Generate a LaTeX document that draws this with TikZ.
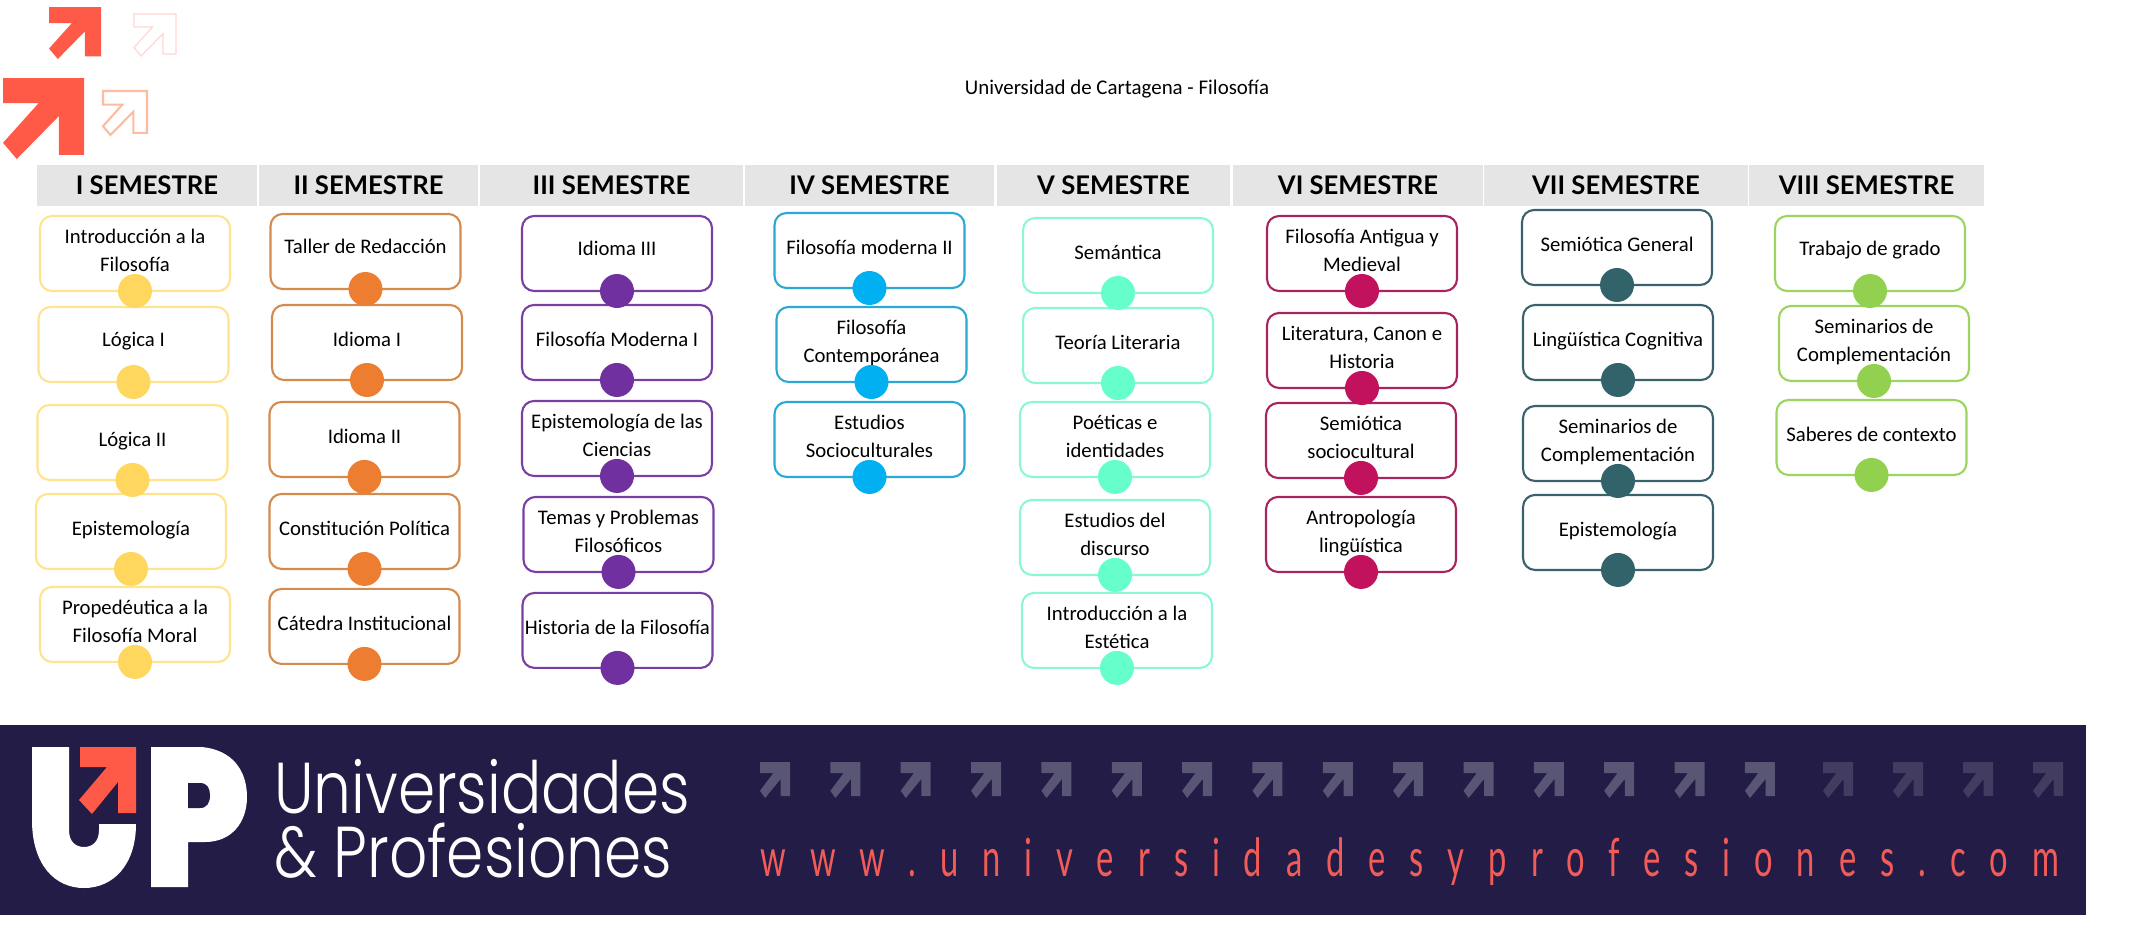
\documentclass[tikz,border=0pt]{standalone}
\usepackage{fontspec}
\usepackage{xcolor}
\setmainfont{Carlito}
\newfontfamily\headfont{Lato}
\newfontfamily\brandfont[FakeStretch=0.83]{Poppins Light}
\newfontfamily\webfont[FakeStretch=0.62,LetterSpace=45.5]{Lato}
\usetikzlibrary{positioning}

\definecolor{band}{HTML}{221C46}
\definecolor{coral}{HTML}{FF5A47}
\definecolor{webred}{HTML}{F25C58}
\definecolor{yelline}{HTML}{FFE38E}
\definecolor{yeldot}{HTML}{FFD75F}
\definecolor{orgline}{HTML}{D58A4E}
\definecolor{orgdot}{HTML}{ED7D31}
\definecolor{purline}{HTML}{7A3FA5}
\definecolor{purdot}{HTML}{7030A0}
\definecolor{cyaline}{HTML}{2AA9D6}
\definecolor{cyadot}{HTML}{00B0F0}
\definecolor{minline}{HTML}{8CF7D8}
\definecolor{mindot}{HTML}{66FFCC}
\definecolor{criline}{HTML}{A8245F}
\definecolor{cridot}{HTML}{C2125E}
\definecolor{tealine}{HTML}{3A616C}
\definecolor{teadot}{HTML}{33636A}
\definecolor{greline}{HTML}{9BD55F}
\definecolor{gredot}{HTML}{92D050}

\tikzset{
    upmark/.pic={
        \path[pic actions] (0,0) -- (1,0) -- (1,.95) -- (.69,.95) -- (.69,.47) -- (.17,1) -- (0,.8) -- (.44,.31) -- (0,.31) -- cycle;
    }
}

\begin{document}
\begin{tikzpicture}[
    x=0.02cm, y=-0.02cm,
    head/.style={fill=black!10, minimum height=0.82cm, inner sep=0pt, outer sep=0pt, font=\headfont\fontsize{14.6}{15}\selectfont\bfseries},
    course/.style={draw, fill=white, rounded corners=0.24cm, line width=1.2pt, minimum width=3.8cm, minimum height=1.5cm, inner sep=0pt, outer sep=0pt, align=center, text depth=0.12cm, font=\fontsize{11.8}{16}\selectfont},
    raised/.style={text depth=0.2cm},
    knob/.style={circle, minimum size=0.68cm, inner sep=0pt}
]
\useasboundingbox (0,0) rectangle (2129,947);

% Title
\node[font=\fontsize{11.9}{14}\selectfont] (title) at (1117,89) {Universidad de Cartagena - Filosofía};

% Corner arrows
\pic[fill=coral, scale=52] at (49,7) {upmark};
\pic[fill=coral, scale=81] at (3,78) {upmark};
\pic[draw=coral!25, line width=0.7pt, scale=42] at (134,14) {upmark};
\pic[draw=orange!35!coral!45, line width=1.2pt, scale=44] at (103,91) {upmark};

% Semester headers
\node[head, minimum width=4.4cm] (s1) at (147,185.5) {I SEMESTRE};
\node[head, minimum width=4.38cm] (s2) at (368.5,185.5) {II SEMESTRE};
\node[head, minimum width=5.26cm] (s3) at (611.5,185.5) {III SEMESTRE};
\node[head, minimum width=4.98cm] (s4) at (869.5,185.5) {IV SEMESTRE};
\node[head, minimum width=4.68cm] (s5) at (1113.5,185.5) {V SEMESTRE};
\node[head, minimum width=5cm] (s6) at (1358,185.5) {VI SEMESTRE};
\node[head, minimum width=5.28cm] (s7) at (1616,185.5) {VII SEMESTRE};
\node[head, minimum width=4.7cm] (s8) at (1866.5,185.5) {VIII SEMESTRE};

% Courses per semester
\node[course, draw=yelline] (a1) at (135,253.5) {Introducción a la\\Filosofía};
\node[course, raised, draw=yelline, below=0.32cm of a1, xshift=-0.03cm] (a2) {Lógica I};
\node[course, draw=yelline, below=0.46cm of a2, xshift=-0.02cm] (a3) {Lógica II};
\node[course, draw=yelline, below=0.28cm of a3, xshift=-0.03cm] (a4) {Epistemología};
\node[course, draw=yelline, below=0.36cm of a4, xshift=0.08cm] (a5) {Propedéutica a la\\Filosofía Moral};

\node[course, raised, draw=orgline] (b1) at (365.5,251.5) {Taller de Redacción};
\node[course, draw=orgline, below=0.32cm of b1, xshift=0.03cm] (b2) {Idioma I};
\node[course, draw=orgline, below=0.44cm of b2, xshift=-0.05cm] (b3) {Idioma II};
\node[course, draw=orgline, below=0.34cm of b3] (b4) {Constitución Política};
\node[course, draw=orgline, below=0.40cm of b4] (b5) {Cátedra Institucional};

\node[course, raised, draw=purline] (c1) at (617,253.5) {Idioma III};
\node[course, draw=purline, below=0.28cm of c1] (c2) {Filosofía Moderna I};
\node[course, draw=purline, below=0.42cm of c2] (c3) {Epistemología de las\\Ciencias};
\node[course, draw=purline, below=0.42cm of c3, xshift=0.03cm] (c4) {Temas y Problemas\\Filosóficos};
\node[course, draw=purline, below=0.42cm of c4, xshift=-0.02cm] (c5) {Historia de la Filosofía};

\node[course, draw=cyaline] (d1) at (869.5,250.5) {Filosofía moderna II};
\node[course, draw=cyaline, below=0.38cm of d1, xshift=0.04cm] (d2) {Filosofía\\Contemporánea};
\node[course, draw=cyaline, below=0.40cm of d2, xshift=-0.04cm] (d3) {Estudios\\Socioculturales};

\node[course, draw=minline] (e1) at (1118,255.5) {Semántica};
\node[course, draw=minline, below=0.30cm of e1] (e2) {Teoría Literaria};
\node[course, draw=minline, below=0.38cm of e2, xshift=-0.06cm] (e3) {Poéticas e\\identidades};
\node[course, draw=minline, below=0.46cm of e3] (e4) {Estudios del\\discurso};
\node[course, draw=minline, below=0.36cm of e4, xshift=0.04cm] (e5) {Introducción a la\\Estética};

\node[course, draw=criline] (f1) at (1362,253.5) {Filosofía Antigua y\\Medieval};
\node[course, draw=criline, below=0.44cm of f1] (f2) {Literatura, Canon e\\Historia};
\node[course, draw=criline, below=0.30cm of f2, xshift=-0.02cm] (f3) {Semiótica\\sociocultural};
\node[course, draw=criline, below=0.38cm of f3] (f4) {Antropología\\lingüística};

\node[course, draw=tealine] (g1) at (1617,247.5) {Semiótica General};
\node[course, draw=tealine, below=0.40cm of g1, xshift=0.02cm] (g2) {Lingüística Cognitiva};
\node[course, draw=tealine, below=0.52cm of g2] (g3) {Seminarios de\\Complementación};
\node[course, draw=tealine, below=0.28cm of g3] (g4) {Epistemología};

\node[course, raised, draw=greline] (h1) at (1870,253.5) {Trabajo de grado};
\node[course, draw=greline, below=0.30cm of h1, xshift=0.08cm] (h2) {Seminarios de\\Complementación};
\node[course, draw=greline, below=0.38cm of h2, xshift=-0.05cm] (h3) {Saberes de contexto};

% Dots on the lower edge of each course
\foreach \n in {a1,a2,a3,a4,a5} \node[knob, fill=yeldot] at (\n.south) {};
\foreach \n in {b1,b2,b3,b4,b5} \node[knob, fill=orgdot] at (\n.south) {};
\foreach \n in {c1,c2,c3,c4,c5} \node[knob, fill=purdot] at (\n.south) {};
\foreach \n in {d1,d2,d3} \node[knob, fill=cyadot] at (\n.south) {};
\foreach \n in {e1,e2,e3,e4,e5} \node[knob, fill=mindot] at (\n.south) {};
\foreach \n in {f1,f2,f3,f4} \node[knob, fill=cridot] at (\n.south) {};
\foreach \n in {g1,g2,g3,g4} \node[knob, fill=teadot] at (\n.south) {};
\foreach \n in {h1,h2,h3} \node[knob, fill=gredot] at (\n.south) {};

% Bottom band
\fill[band] (0,725) rectangle (2086,915);

% UP logo
\fill[white] (32,747) -- (32,820) .. controls (32,865) and (55,888) .. (84,888) .. controls (113,888) and (136,865) .. (136,824) -- (99,824) -- (99,830) .. controls (99,842) and (92,847) .. (84,847) .. controls (76,847) and (69,842) .. (69,830) -- (69,747) -- cycle;
\fill[white] (151,747) -- (202,747) .. controls (232,750) and (247,770) .. (247,797) .. controls (247,822) and (232,842) .. (205,842) -- (188,842) -- (188,887) -- (151,887) -- cycle;
\fill[band] (188,783) -- (200,783) .. controls (207,783) and (210,788) .. (210,795) .. controls (210,803) and (207,808) .. (200,808) -- (188,808) -- cycle;
\fill[coral] (80,747) -- (136,747) -- (136,813) -- (118,813) -- (118,782) -- (92,814) -- (79,800) -- (107,767) -- (80,767) -- cycle;

% Brand text
\node[anchor=base west, inner sep=0pt, text=white, font=\brandfont\fontsize{41}{41}\selectfont] (uni) at (274,813) {Universidades};
\node[anchor=base west, inner sep=0pt, text=white, font=\brandfont\fontsize{41}{41}\selectfont] (pro) at (274,877) {\& Profesiones};

% Band arrows
\foreach \i in {0,...,14} \pic[fill=white!25!band, xscale=30, yscale=36] at (760+70.35*\i,762) {upmark};
\foreach \i in {15,...,18} \pic[fill=white!14!band, xscale=30, yscale=36] at (773+70*\i,762) {upmark};

% Web address
\node[anchor=base west, inner sep=0pt, text=webred, font=\webfont\fontsize{30}{30}\selectfont] (web) at (760,876) {www.universidadesyprofesiones.com};
\end{tikzpicture}
\end{document}
